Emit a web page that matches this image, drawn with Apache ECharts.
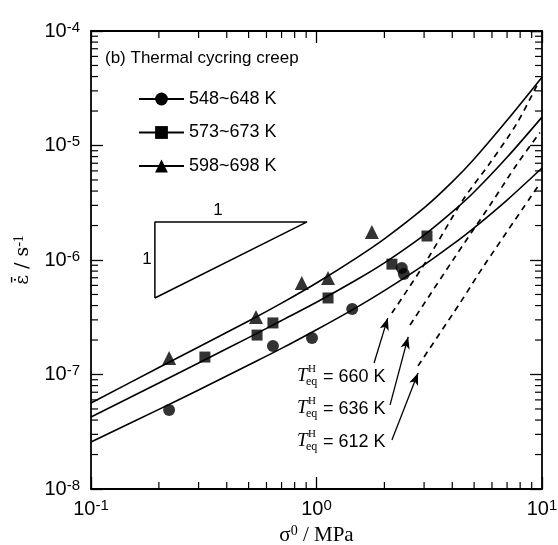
<!DOCTYPE html>
<html>
<head>
<meta charset="utf-8">
<script src="https://cdn.jsdelivr.net/npm/echarts@6/dist/echarts.min.js"></script>
<style>html,body{margin:0;padding:0;background:#fff}#c{width:558px;height:545px}</style>
</head>
<body>
<div id="c"></div>
<script>
// ---- data ----
const xTickExps = [-1, 0, 1];
const yTickExps = [-8, -7, -6, -5, -4];
const minorMult = [2, 3, 4, 5, 6, 7, 8, 9];
const xDecades = [0.1, 1];
const yDecades = [1e-8, 1e-7, 1e-6, 1e-5];

const seriesNames = ['548~648 K', '573~673 K', '598~698 K'];

const circleX = [0.222, 0.641, 0.955, 1.44, 2.39, 2.44];
const circleY = [4.9e-8, 1.77e-7, 2.08e-7, 3.73e-7, 8.5e-7, 7.55e-7];
const squareX = [0.320, 0.545, 0.641, 1.125, 2.16, 3.09];
const squareY = [1.42e-7, 2.21e-7, 2.82e-7, 4.66e-7, 9.2e-7, 1.62e-6];
const triX = [0.222, 0.539, 0.86, 1.125, 1.76];
const triY = [1.39e-7, 3.18e-7, 6.3e-7, 6.97e-7, 1.76e-6];

const curveX = [0.1, 0.2, 0.3, 0.5, 0.7, 1, 1.5, 2, 3, 4, 5, 7, 10];
const curveBot = [2.57e-8, 4.96e-8, 7.32e-8, 1.21e-7, 1.69e-7, 2.46e-7, 3.84e-7, 5.40e-7, 9.06e-7, 1.36e-6, 1.91e-6, 3.34e-6, 6.36e-6];
const curveMid = [4.25e-8, 8.43e-8, 1.26e-7, 2.10e-7, 2.96e-7, 4.27e-7, 6.68e-7, 9.43e-7, 1.65e-6, 2.63e-6, 3.93e-6, 7.89e-6, 1.77e-5];
const curveTop = [5.64e-8, 1.15e-7, 1.74e-7, 2.93e-7, 4.20e-7, 6.30e-7, 1.04e-6, 1.53e-6, 2.85e-6, 4.81e-6, 7.62e-6, 1.66e-5, 3.95e-5];

const dash1X = [2.16, 3.09, 4.46, 5.88, 7.75, 9.7];
const dash1Y = [3.44e-7, 1.0e-6, 3.34e-6, 7.04e-6, 1.57e-5, 3.65e-5];
const dash2X = [2.6, 4.03, 6.0, 7.8, 9.8];
const dash2Y = [2.71e-7, 1.0e-6, 3.2e-6, 7.0e-6, 1.3e-5];
const dash3X = [2.82, 4.33, 5.48, 9.6];
const dash3Y = [1.19e-7, 4.21e-7, 8.69e-7, 4.4e-6];

const arrowTail = [[1.80, 1.26e-7], [2.12, 5.42e-8], [2.16, 2.68e-8]];
const arrowTip = [[2.07, 3.11e-7], [2.55, 2.13e-7], [2.82, 1.03e-7]];
const tempLabels = ['660 K', '636 K', '612 K'];

const slopeX = [0.192, 0.908];
const slopeY = [4.66e-7, 2.15e-6];

// ---- build ----
const zip = (a, b) => a.map((v, i) => [v, b[i]]);
const SANS = 'Liberation Sans, Arial, sans-serif';
const SERIF = 'Liberation Serif, Times New Roman, serif';

function expLabel(v) {
  const e = Math.round(Math.log10(v));
  return '{b|10}{s|' + e + '}';
}
const tickRich = {
  b: { fontSize: 20, fontFamily: SANS, color: '#000', lineHeight: 22 },
  s: { fontSize: 15, fontFamily: SANS, color: '#000', lineHeight: 12, verticalAlign: 'top' }
};

const minorData = [];
xDecades.forEach(d => minorMult.forEach(m => minorData.push([d * m, 1e-6, 0])));
yDecades.forEach(d => minorMult.forEach(m => minorData.push([1, d * m, 1])));

const axisBase = {
  type: 'log', logBase: 10,
  axisLine: { show: true, onZero: false, lineStyle: { color: '#000', width: 1.8 } },
  axisTick: { show: true, inside: true, length: 12, lineStyle: { color: '#000', width: 1.3 } },
  splitLine: { show: false },
  minorTick: { show: false }
};

const markers = [
  { name: seriesNames[0], sym: 'circle', size: 12, x: circleX, y: circleY, curve: curveBot },
  { name: seriesNames[1], sym: 'rect', size: 11, x: squareX, y: squareY, curve: curveMid },
  { name: seriesNames[2], sym: 'triangle', size: 14, x: triX, y: triY, curve: curveTop }
];

const series = [];
markers.forEach(m => {
  series.push({
    name: m.name, type: 'line', data: zip(curveX, m.curve), smooth: 0.3,
    symbol: m.sym, symbolSize: m.size, showSymbol: false,
    lineStyle: { color: '#000', width: 1.6 }, itemStyle: { color: '#000' },
    silent: true, animation: false, z: 3
  });
  series.push({
    name: m.name + ' pts', type: 'scatter', data: zip(m.x, m.y),
    symbol: m.sym, symbolSize: m.size, itemStyle: { color: '#000' },
    animation: false, z: 5
  });
});
[[dash1X, dash1Y], [dash2X, dash2Y], [dash3X, dash3Y]].forEach((d, i) => {
  series.push({
    name: 'dash' + i, type: 'line', data: zip(d[0], d[1]), smooth: 0.3, showSymbol: false, symbol: 'none',
    lineStyle: { color: '#000', width: 1.7, type: [6, 5] }, animation: false, z: 3
  });
});
// arrows
series.push({
  name: 'arrows', type: 'line', data: [], symbol: 'none', animation: false,
  markLine: {
    silent: true, animation: false, symbol: ['none', 'arrow'], symbolSize: [7, 12],
    label: { show: false },
    lineStyle: { color: '#000', width: 1.3, type: 'solid' },
    data: arrowTail.map((t, i) => [{ coord: t }, { coord: arrowTip[i] }])
  }
});
// slope triangle
series.push({
  name: 'slope', type: 'line', symbol: 'none', animation: false,
  data: [[slopeX[0], slopeY[0]], [slopeX[1], slopeY[1]], [slopeX[0], slopeY[1]], [slopeX[0], slopeY[0]]],
  lineStyle: { color: '#000', width: 1.5 }
});
// minor ticks on all four sides
series.push({
  name: 'minor', type: 'custom', data: minorData, animation: false, silent: true,
  renderItem: function (params, api) {
    const cs = params.coordSys;
    const L = 7, st = { stroke: '#000', lineWidth: 1.2 };
    if (api.value(2) === 0) {
      const px = api.coord([api.value(0), 1e-6])[0];
      return { type: 'group', children: [
        { type: 'line', shape: { x1: px, y1: cs.y + cs.height, x2: px, y2: cs.y + cs.height - L }, style: st },
        { type: 'line', shape: { x1: px, y1: cs.y, x2: px, y2: cs.y + L }, style: st }
      ] };
    } else {
      const py = api.coord([1, api.value(1)])[1];
      return { type: 'group', children: [
        { type: 'line', shape: { x1: cs.x, y1: py, x2: cs.x + L, y2: py }, style: st },
        { type: 'line', shape: { x1: cs.x + cs.width, y1: py, x2: cs.x + cs.width - L, y2: py }, style: st }
      ] };
    }
  }
});

function tLabel(x, y, txt) {
  return {
    type: 'group', x: x, y: y, silent: true, children: [
      { type: 'text', x: 0, y: 0, style: { text: 'T', font: 'italic 19px ' + SERIF, fill: '#000', verticalAlign: 'middle', align: 'left' } },
      { type: 'text', x: 11, y: -7, style: { text: 'H', font: '11px ' + SERIF, fill: '#000', verticalAlign: 'middle', align: 'left' } },
      { type: 'text', x: 9, y: 6, style: { text: 'eq', font: '12px ' + SERIF, fill: '#000', verticalAlign: 'middle', align: 'left' } },
      { type: 'text', x: 26, y: 1, style: { text: '= ' + txt, font: '18px ' + SANS, fill: '#000', verticalAlign: 'middle', align: 'left' } }
    ]
  };
}

const option = {
  backgroundColor: '#fff',
  animation: false,
  grid: { left: 91, right: 16, top: 31, bottom: 56, containLabel: false, outerBoundsMode: 'none' },
  legend: {
    data: seriesNames, orient: 'vertical', left: 138, top: 90, padding: 0,
    itemWidth: 45, itemHeight: 16, itemGap: 15.5, selectedMode: false,
    textStyle: { fontSize: 18, fontFamily: SANS, color: '#000' }
  },
  xAxis: [
    Object.assign({}, axisBase, {
      position: 'bottom', min: 0.1, max: 10,
      axisLabel: { margin: 9, formatter: expLabel, rich: tickRich },
      name: '{e|σ}{s|0}{e| / MPa}', nameLocation: 'middle', nameGap: 32,
      nameTextStyle: { rich: {
        e: { fontFamily: SERIF, fontSize: 21, color: '#000', lineHeight: 24 },
        s: { fontFamily: SERIF, fontSize: 14, color: '#000', lineHeight: 14, verticalAlign: 'top' }
      } }
    }),
    Object.assign({}, axisBase, { position: 'top', min: 0.1, max: 10, axisLabel: { show: false } })
  ],
  yAxis: [
    Object.assign({}, axisBase, {
      position: 'left', min: 1e-8, max: 1e-4,
      axisLabel: { margin: 11, formatter: expLabel, rich: tickRich },
      name: '{e|ε\u0307\u0304 / s}{s|-1}', nameLocation: 'middle', nameGap: 57, nameRotate: 90,
      nameTextStyle: { rich: {
        e: { fontFamily: 'DejaVu Serif, ' + SERIF, fontSize: 19, color: '#000', lineHeight: 22 },
        s: { fontFamily: SERIF, fontSize: 14, color: '#000', lineHeight: 12, verticalAlign: 'top' }
      } }
    }),
    Object.assign({}, axisBase, { position: 'right', min: 1e-8, max: 1e-4, axisLabel: { show: false } })
  ],
  series: series,
  graphic: [
    { type: 'text', x: 105, y: 58, silent: true, style: { text: '(b) Thermal cycring creep', font: '17px ' + SANS, fill: '#000', verticalAlign: 'middle' } },
    { type: 'text', x: 218, y: 210, silent: true, style: { text: '1', font: '17px ' + SANS, fill: '#000', verticalAlign: 'middle', align: 'center' } },
    { type: 'text', x: 147, y: 259, silent: true, style: { text: '1', font: '17px ' + SANS, fill: '#000', verticalAlign: 'middle', align: 'center' } },
    tLabel(297, 376, tempLabels[0]),
    tLabel(297, 408, tempLabels[1]),
    tLabel(297, 441, tempLabels[2])
  ]
};

const chart = echarts.init(document.getElementById('c'), null, { renderer: 'canvas' });
chart.setOption(option);
</script>
</body>
</html>
